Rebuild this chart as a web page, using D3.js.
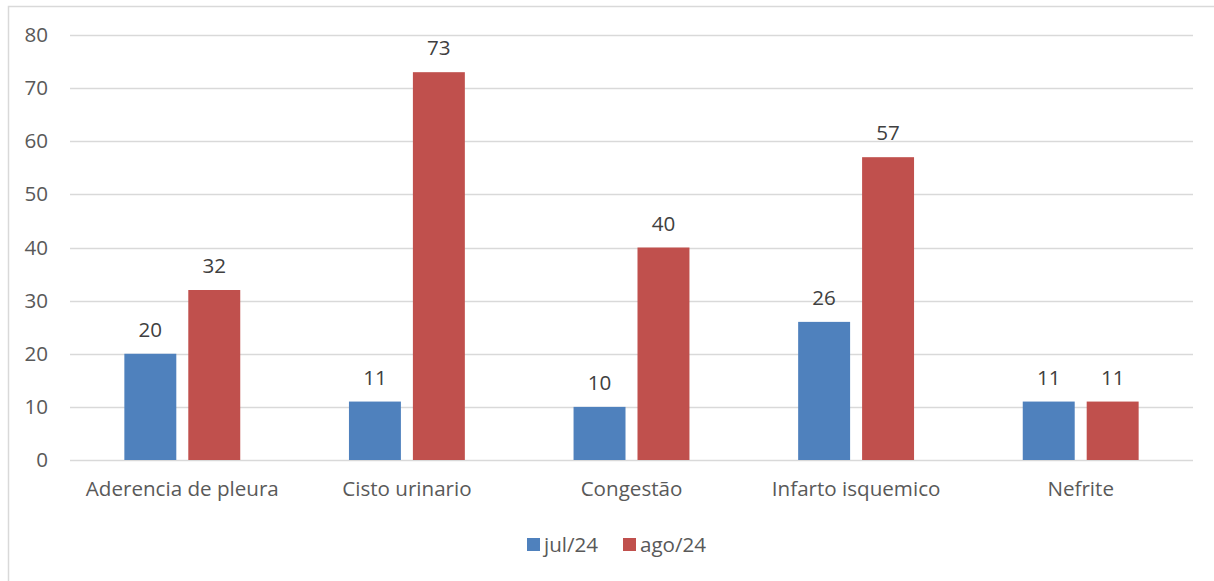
<!DOCTYPE html>
<html>
<head>
<meta charset="utf-8">
<script src="https://cdn.jsdelivr.net/npm/d3@7"></script>
<style>
    body { margin: 0; background: #fff; }
    text { font-family: "Open Sans", "Noto Sans", sans-serif; }
</style>
</head>
<body>
<div id="main"></div>
<script>
const categories = ["Aderencia de pleura", "Cisto urinario", "Congestão", "Infarto isquemico", "Nefrite"];
const seriesNames = ["jul/24", "ago/24"];
const jul24 = [20, 11, 10, 26, 11];
const ago24 = [32, 73, 40, 57, 11];
const yTicks = [0, 10, 20, 30, 40, 50, 60, 70, 80];
const colors = ["#4F81BD", "#C0504D"];

const width = 1214, height = 581;
const margin = {top: 35, right: 21, bottom: 121, left: 70};
const fontSize = 20.6;

const svg = d3.select('#main').append('svg')
    .attr('width', width).attr('height', height);

// chart frame
svg.append('rect')
    .attr('x', 8.5).attr('y', 6.5)
    .attr('width', width + 10).attr('height', height + 10)
    .attr('fill', 'none').attr('stroke', '#d9d9d9').attr('stroke-width', 1.5);

const x0 = d3.scaleBand().domain(categories)
    .range([margin.left, width - margin.right])
    .paddingInner(0).paddingOuter(0);
const x1 = d3.scaleBand().domain(seriesNames)
    .range([0, x0.bandwidth()])
    .paddingInner(0.1875).paddingOuter(0.85);
const y = d3.scaleLinear().domain([0, 80])
    .range([height - margin.bottom, margin.top]);

// gridlines
svg.append('g').selectAll('line').data(yTicks).enter().append('line')
    .attr('x1', margin.left).attr('x2', width - margin.right)
    .attr('y1', function (d) { return Math.round(y(d)) + 0.5; })
    .attr('y2', function (d) { return Math.round(y(d)) + 0.5; })
    .attr('stroke', '#d9d9d9').attr('stroke-width', 1.5);

// y axis labels
const yAxis = d3.axisLeft(y).tickValues(yTicks).tickSize(0).tickPadding(0);
const yg = svg.append('g')
    .attr('transform', 'translate(' + 48 + ',0)')
    .call(yAxis);
yg.select('.domain').remove();
yg.selectAll('text').attr('font-size', fontSize).attr('fill', '#595959')
    .attr('font-family', '"Open Sans", sans-serif');

// bars
const rows = categories.map(function (c, i) {
    return {cat: c, values: [jul24[i], ago24[i]]};
});
const groups = svg.append('g').selectAll('g').data(rows).enter().append('g')
    .attr('transform', function (d) { return 'translate(' + x0(d.cat) + ',0)'; });

groups.selectAll('rect').data(function (d) {
    return d.values.map(function (v, k) { return {key: seriesNames[k], v: v, k: k}; });
}).enter().append('rect')
    .attr('x', function (d) { return x1(d.key); })
    .attr('y', function (d) { return y(d.v); })
    .attr('width', x1.bandwidth())
    .attr('height', function (d) { return y(0) - y(d.v); })
    .attr('fill', function (d) { return colors[d.k]; });

groups.selectAll('text').data(function (d) {
    return d.values.map(function (v, k) { return {key: seriesNames[k], v: v, k: k}; });
}).enter().append('text')
    .attr('x', function (d) { return x1(d.key) + x1.bandwidth() / 2; })
    .attr('y', function (d) { return y(d.v) - 17; })
    .attr('text-anchor', 'middle')
    .attr('font-size', fontSize).attr('fill', '#404040')
    .text(function (d) { return d.v; });

// x axis labels
const xAxis = d3.axisBottom(x0).tickSize(0).tickPadding(0);
const xg = svg.append('g')
    .attr('transform', 'translate(0,' + (y(0) + 21) + ')')
    .call(xAxis);
xg.select('.domain').remove();
xg.selectAll('text').attr('font-size', fontSize).attr('fill', '#595959')
    .attr('font-family', '"Open Sans", sans-serif');

// legend
const legendX = [527, 623];
const legend = svg.append('g').selectAll('g').data(seriesNames).enter().append('g')
    .attr('transform', function (d, i) { return 'translate(' + legendX[i] + ',538)'; });
legend.append('rect').attr('width', 13).attr('height', 13)
    .attr('fill', function (d, i) { return colors[i]; });
legend.append('text').attr('x', 17).attr('y', 14)
    .attr('font-size', fontSize).attr('fill', '#595959')
    .text(function (d) { return d; });
</script>
</body>
</html>
